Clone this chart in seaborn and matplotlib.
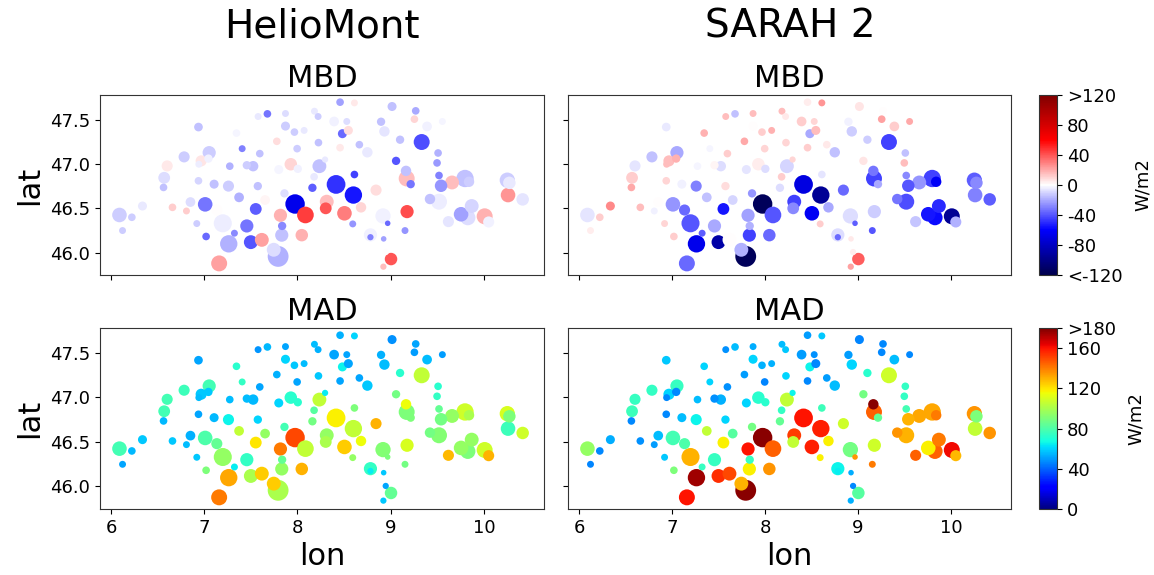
import numpy as np
import pandas as pd
import matplotlib
matplotlib.use("Agg")
import matplotlib.pyplot as plt
import matplotlib.colors as mcolors
import seaborn as sns

# station coordinates
lon = [6.089, 6.222, 6.122, 6.336, 6.562, 6.569, 6.601, 6.658, 6.783, 6.851,
       6.808, 6.937, 6.937, 6.919, 6.966, 6.941, 7.052, 7.044, 7.009, 7.019,
       7.105, 7.134, 7.198, 7.159, 7.259, 7.273, 7.262, 7.323, 7.345, 7.373,
       7.406, 7.456, 7.456, 7.499, 7.524, 7.552, 7.574, 7.577, 7.595, 7.617,
       7.652, 7.677, 7.745, 7.792, 7.799, 7.778, 7.817, 7.860, 7.831, 7.835,
       7.871, 7.871, 7.928, 7.967, 7.974, 7.996, 8.003, 8.046, 8.071, 8.085,
       8.160, 8.178, 8.182, 8.221, 8.225, 8.235, 8.296, 8.314, 8.303, 8.457,
       8.611, 8.393, 8.529, 8.546, 8.482, 8.457, 8.664, 8.750, 8.414, 8.611,
       8.600, 8.682, 8.504, 8.593, 8.843, 8.783, 8.783, 8.918, 8.968, 8.925,
       8.947, 9.004, 8.922, 9.015, 8.897, 8.933, 9.101, 9.058, 9.165, 9.172,
       9.215, 9.176, 9.154, 9.269, 9.255, 9.391, 9.333, 9.555, 9.509, 9.498,
       9.519, 9.541, 9.422, 9.519, 9.659, 9.798, 9.841, 9.620, 9.756, 9.828,
       9.870, 10.009, 10.052, 10.252, 10.274, 10.260, 10.417]
lat = [46.425, 46.399, 46.249, 46.526, 46.736, 46.845, 46.979, 46.511, 47.081, 46.571,
       46.470, 47.418, 46.811, 46.328, 47.036, 46.998, 47.129, 47.062, 46.545, 46.182,
       46.773, 46.481, 46.331, 45.878, 46.751, 46.976, 46.099, 46.219, 47.350, 46.624,
       47.174, 46.987, 46.301, 46.118, 46.976, 46.493, 46.751, 47.537, 47.118, 46.144,
       46.594, 47.567, 46.032, 45.957, 46.938, 47.257, 46.421, 46.669, 46.197, 46.301,
       47.571, 47.429, 46.998, 47.361, 46.549, 47.174, 46.946, 46.197, 47.380, 46.425,
       46.732, 46.856, 47.597, 47.537, 47.242, 46.976, 47.051, 46.575, 46.500, 47.699,
       47.691, 47.481, 47.481, 47.380, 47.343, 47.185, 47.219, 47.133, 46.770, 46.882,
       46.650, 46.511, 46.444, 46.324, 46.706, 46.200, 46.174, 46.414, 46.331, 46.155,
       46.006, 45.927, 45.841, 47.650, 47.478, 47.369, 47.275, 47.036, 46.923, 46.837,
       46.773, 46.463, 46.249, 47.601, 47.507, 47.425, 47.249, 47.481, 47.125, 47.013,
       46.871, 46.755, 46.605, 46.575, 46.792, 46.837, 46.800, 46.350, 46.433, 46.395,
       46.526, 46.410, 46.346, 46.818, 46.788, 46.650, 46.601]
# relative station weight (drives marker size)
weight = [21, 11, 10, 13, 11, 17, 16, 11, 16, 14,
          10, 12.5, 11, 10, 16, 10, 19, 12, 21, 11,
          13, 16, 26, 23, 16, 11, 25, 10, 11, 14,
          10, 12, 19, 20, 15, 17, 12, 10, 11, 20,
          14, 11, 20, 30, 13, 11, 19, 12, 19, 12,
          10, 13, 18, 11, 28, 11, 12, 18, 10, 24,
          12, 11, 10, 10, 11, 20, 9, 20, 17, 11,
          10, 14, 10, 13, 13, 11, 11, 15, 27, 11,
          25, 15, 21, 10, 16, 19, 9, 22, 8, 8,
          9, 18, 9, 13, 12, 15, 12, 12, 15, 23,
          12, 19, 10, 11, 11, 14, 23, 10, 11, 11,
          11, 18, 15, 23, 20, 25, 15, 16, 21, 22,
          20, 23, 16, 22, 18, 21, 18]
mbd_helio = [-12, -12, -12, -5, -15, -8, 5, 12, -12, -8,
             12, -15, -10, -12, 6, -4, -12, -3, -32, -35,
             -15, 0, -4, 22, -12, -18, -18, -28, -2, -18,
             -30, -12, -32, -40, -15, -38, -15, -5, -15, 22,
             2, -32, -8, -18, -2, 8, 18, -8, -15, -28,
             -8, -12, 10, -12, -66, -12, -3, 18, -5, 45,
             -38, -5, -5, -12, -15, -15, -5, 15, 40, -22,
             5, -3, -8, 8, -35, 5, -15, -5, -48, -45,
             -55, 10, 30, -25, 8, -3, -30, -3, -35, -22,
             0, 40, 15, -15, -15, -6, -15, -40, -15, 15,
             -32, 42, -25, -20, 10, -3, -42, -2, -18, -24,
             -30, -25, -15, -4, 15, -15, -12, -6, -22, -8,
             -10, 18, -3, -12, -5, 25, -6]
mbd_sarah = [-6, 12, 4, 28, 20, 12, -6, 15, -15, 0,
             -3, -5, 10, 10, 15, 15, -20, 18, -25, 12,
             -3, -35, -40, -35, -30, -2, -66, -38, 18, -15,
             -2, 2, -20, -90, -8, -55, 8, 15, 12, 0,
             -10, -15, -18, -115, -6, 20, -22, -25, -45, -18,
             15, 0, 4, 12, -115, 10, -8, -35, 18, -40,
             -8, 12, 15, 5, 10, -10, 10, -45, -28, 4,
             25, 12, 10, 15, -20, 12, 5, -15, -70, -6,
             -95, -20, -63, 12, -35, -8, -35, -8, -38, 5,
             4, 38, 22, 6, -3, -12, -12, 6, -32, -45,
             -20, -12, -40, 0, 22, 12, -45, 20, -15, 15,
             -28, -40, -32, -42, -25, -45, -62, -14, -55, -58,
             -50, -95, -18, -38, -28, -30, -38]
mad_helio = [78, 55, 52, 58, 55, 78, 78, 58, 76, 54,
             56, 52, 52, 58, 58, 56, 78, 58, 80, 90,
             55, 85, 95, 140, 66, 56, 132, 64, 72, 105,
             74, 56, 74, 100, 55, 120, 60, 49, 52, 125,
             95, 55, 125, 100, 60, 54, 140, 78, 95, 85,
             52, 60, 72, 58, 150, 52, 72, 130, 56, 105,
             88, 82, 56, 54, 58, 105, 64, 95, 100, 54,
             60, 52, 52, 52, 66, 52, 52, 58, 118, 90,
             105, 115, 125, 95, 130, 74, 64, 92, 90, 58,
             52, 85, 58, 48, 54, 56, 72, 88, 115, 90,
             90, 110, 88, 52, 50, 56, 105, 50, 72, 74,
             85, 88, 88, 92, 95, 108, 100, 128, 95, 90,
             95, 108, 130, 110, 90, 76, 108]
mad_sarah = [95, 47, 46, 53, 47, 76, 75, 48, 74, 56,
             50, 58, 47, 58, 60, 47, 75, 47, 78, 90,
             56, 80, 130, 160, 66, 56, 175, 75, 60, 105,
             60, 48, 75, 155, 54, 118, 60, 48, 48, 150,
             82, 56, 130, 178, 60, 50, 160, 88, 118, 75,
             53, 60, 72, 54, 178, 46, 72, 135, 54, 145,
             85, 74, 56, 58, 60, 105, 66, 152, 105, 50,
             58, 50, 48, 47, 66, 47, 50, 56, 160, 76,
             158, 118, 158, 118, 108, 66, 64, 88, 135, 53,
             47, 82, 54, 46, 50, 60, 72, 88, 178, 145,
             85, 108, 140, 47, 47, 56, 108, 47, 74, 74,
             78, 130, 135, 130, 132, 132, 140, 145, 118, 145,
             140, 162, 128, 135, 90, 105, 135]

stations = pd.DataFrame({
    "lon": lon, "lat": lat, "weight": weight,
    "mbd_helio": mbd_helio, "mbd_sarah": mbd_sarah,
    "mad_helio": mad_helio, "mad_sarah": mad_sarah,
})
stations["area"] = stations["weight"] ** 2
# big stations first so small ones stay visible on top
stations = stations.sort_values("area", ascending=False)

plt.rcParams["axes.edgecolor"] = "#333333"

fig = plt.figure(figsize=(11.54, 5.75), dpi=100)
W, H = 1154, 575


def box(x0, y0, x1, y1):
    return [x0 / W, 1 - y1 / H, (x1 - x0) / W, (y1 - y0) / H]


ax_tl = fig.add_axes(box(100, 95, 544, 275))
ax_tr = fig.add_axes(box(568, 95, 1011, 275))
ax_bl = fig.add_axes(box(100, 328, 544, 509))
ax_br = fig.add_axes(box(568, 328, 1011, 509))
cax_top = fig.add_axes(box(1039, 95, 1057, 275))
cax_bot = fig.add_axes(box(1039, 328, 1057, 509))

w2 = stations["area"]
size_range = (0.25 * w2.min(), 0.25 * w2.max())

cm_mbd = plt.get_cmap("seismic")
cm_mad = plt.get_cmap("jet")

panels = [
    (ax_tl, "mbd_helio", cm_mbd, (-120, 120), "MBD"),
    (ax_tr, "mbd_sarah", cm_mbd, (-120, 120), "MBD"),
    (ax_bl, "mad_helio", cm_mad, (0, 180), "MAD"),
    (ax_br, "mad_sarah", cm_mad, (0, 180), "MAD"),
]

for ax, col, cmap, lims, title in panels:
    data = stations.copy()
    data[col] = data[col].clip(lims[0], lims[1])
    sns.scatterplot(data=data, x="lon", y="lat", hue=col, palette=cmap,
                    hue_norm=mcolors.Normalize(*lims), size="area",
                    sizes=size_range, size_norm=(w2.min(), w2.max()),
                    edgecolor="none", linewidth=0, legend=False, ax=ax)
    ax.set_xlim(5.88, 10.646)
    ax.set_ylim(45.747, 47.78)
    ax.set_xticks([6, 7, 8, 9, 10])
    ax.set_yticks([46.0, 46.5, 47.0, 47.5])
    ax.tick_params(labelsize=13)
    ax.set_title(title, fontsize=22)
    ax.set_xlabel("")
    ax.set_ylabel("")

for ax in (ax_tl, ax_tr):
    ax.tick_params(labelbottom=False)
for ax in (ax_tr, ax_br):
    ax.tick_params(labelleft=False)
for ax in (ax_bl, ax_br):
    ax.set_xlabel("lon", fontsize=22)
for ax in (ax_tl, ax_bl):
    ax.set_ylabel("lat", fontsize=22)

fig.text(322 / W, 1 - 38 / H, "HelioMont", fontsize=28, ha="center", va="baseline")
fig.text(790 / W, 1 - 38 / H, "SARAH 2", fontsize=28, ha="center", va="baseline")

# colorbars
sm_top = plt.cm.ScalarMappable(norm=mcolors.Normalize(-120, 120), cmap=cm_mbd)
cb_top = fig.colorbar(sm_top, cax=cax_top)
cb_top.set_ticks([-120, -80, -40, 0, 40, 80, 120])
cb_top.set_ticklabels(["<-120", "-80", "-40", "0", "40", "80", ">120"])
cb_top.ax.tick_params(labelsize=13)
cb_top.set_label("W/m2", fontsize=13, labelpad=8)
cb_top.outline.set_edgecolor("#333333")

sm_bot = plt.cm.ScalarMappable(norm=mcolors.Normalize(0, 180), cmap=cm_mad)
cb_bot = fig.colorbar(sm_bot, cax=cax_bot)
cb_bot.set_ticks([0, 40, 80, 120, 160, 180])
cb_bot.set_ticklabels(["0", "40", "80", "120", "160", ">180"])
cb_bot.ax.tick_params(labelsize=13)
cb_bot.set_label("W/m2", fontsize=13, labelpad=8)
cb_bot.outline.set_edgecolor("#333333")

fig.savefig("out.png", dpi=100)
